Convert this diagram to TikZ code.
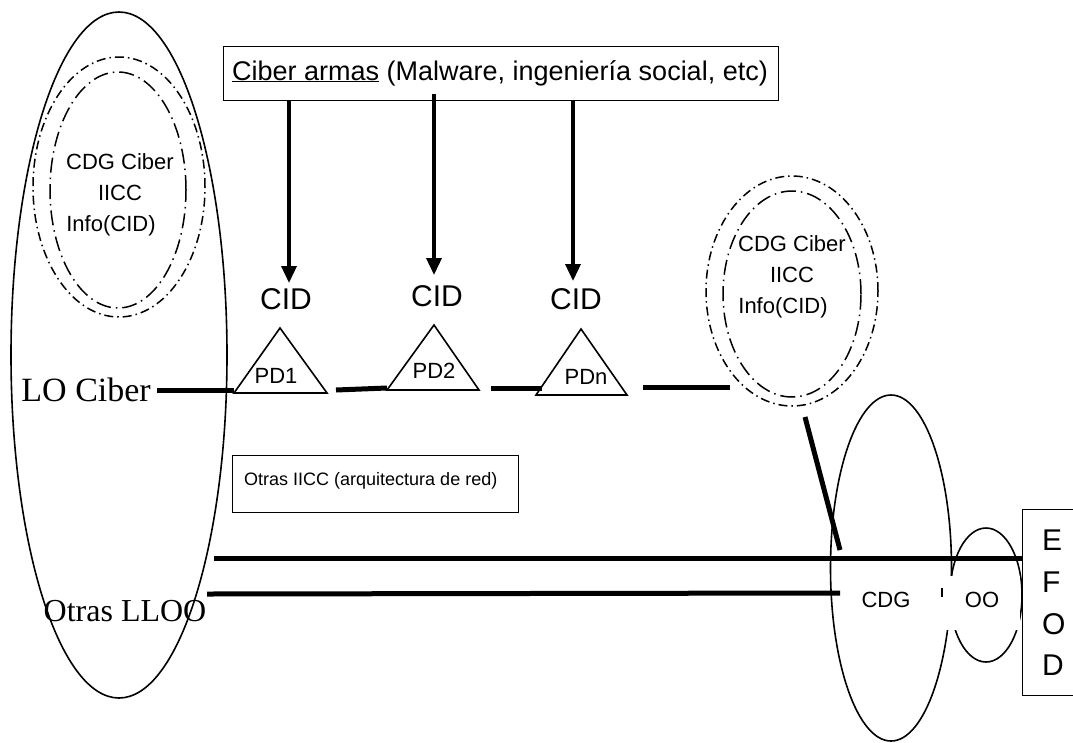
\documentclass[tikz,border=0pt]{standalone}
\usepackage{fontspec}
\setmainfont{Liberation Sans}
\newfontfamily\tmsfont{Liberation Serif}
\usetikzlibrary{shapes.geometric,arrows.meta,calc}
\newcommand\myfs[2]{\fontsize{#1}{#2}\selectfont}
\tikzset{
  ell/.style={draw, ellipse, line width=1.6pt, inner sep=0pt},
  ddouter/.style={draw, ellipse, line width=1.5pt, inner sep=0pt, dash pattern=on 9pt off 4pt on 1.5pt off 4pt},
  ddinner/.style={draw, ellipse, line width=1.5pt, inner sep=0pt, dash pattern=on 15pt off 5pt on 1.5pt off 5pt},
  thicklink/.style={line width=5pt},
  weaponarrow/.style={line width=3.5pt, -{Triangle[width=15pt,length=17pt]}},
  tri/.style={line width=1.6pt, line join=miter},
  frame/.style={draw, line width=1.3pt, rectangle, inner sep=0pt},
  lbl/.style={inner sep=0pt},
}
\begin{document}
\begin{tikzpicture}[x=1pt,y=-1pt]
\useasboundingbox (0,0) rectangle (1073,742);
\clip (0,0) rectangle (1073,742);
\fill[white] (0,0) rectangle (1073,742);

% left big ellipse with dash-dot ellipses
\node[ell, minimum width=216pt, minimum height=686pt] (bigL) at (119,355) {};
\node[ddouter, minimum width=172pt, minimum height=260pt] (dLo) at (119,187) {};
\node[ddinner, minimum width=136pt, minimum height=236pt] (dLi) at (118,190) {};
\node[lbl, align=center, font=\myfs{22}{31}] (tL) at (120,195) {CDG Ciber\\IICC\\Info(CID)\hspace*{18pt}};

% top box
\node[frame, minimum width=555pt, minimum height=54pt, anchor=north west] (arms) at (223,46) {};
\node[lbl, anchor=base, font=\myfs{27}{32}] (armst) at (500,80) {\underline{Ciber armas} (Malware, ingeniería social, etc)};

% arrow tips
\coordinate (t1) at (289,283);
\coordinate (t2) at (434,275);
\coordinate (t3) at (573,281);
\draw[weaponarrow] (arms.south -| t1) -- (t1);
\draw[weaponarrow] ($(arms.south -| t2)+(0,-7)$) -- (t2);
\draw[weaponarrow] (arms.south -| t3) -- (t3);

\node[lbl, anchor=base, font=\myfs{30}{36}] (cid1) at (286,309) {CID};
\node[lbl, anchor=base, font=\myfs{30}{36}] (cid2) at (437,306) {CID};
\node[lbl, anchor=base, font=\myfs{30}{36}] (cid3) at (576,309) {CID};

% triangles
\coordinate (p1a) at (280,328); \coordinate (p1l) at (234,393); \coordinate (p1r) at (327,393);
\coordinate (p2a) at (434,325); \coordinate (p2l) at (387,390); \coordinate (p2r) at (479,390);
\coordinate (p3a) at (581,329); \coordinate (p3l) at (536,395); \coordinate (p3r) at (627,395);
\draw[tri] (p1a) -- (p1l) -- (p1r) -- cycle;
\draw[tri] (p2a) -- (p2l) -- (p2r) -- cycle;
\draw[tri] (p3a) -- (p3l) -- (p3r) -- cycle;
\node[lbl, font=\myfs{22}{26}] (pd1) at (276,376) {PD1};
\node[lbl, font=\myfs{22}{26}] (pd2) at (434,371) {PD2};
\node[lbl, font=\myfs{22}{26}] (pdn) at (586,377) {PDn};

% LO Ciber line
\node[lbl, anchor=east, font=\tmsfont\myfs{34}{40}] (lo) at (151,390) {LO Ciber};
\draw[thicklink] ($(lo.east)+(6,0)$) -- ($(p1l)+(0,-3)$);
\draw[thicklink] ($(p1r)+(9,-3)$) -- ($(p2l)+(0,-2)$);
\coordinate (l3e) at (542,388);
\draw[thicklink] ($(p2r)+(12,-2)$) -- (l3e);
\coordinate (l4e) at (730,387);
\draw[thicklink] ($(p3r)+(16,-8)$) -- (l4e);

% right dash-dot ellipses
\node[ddouter, minimum width=172pt, minimum height=230pt] (dRo) at (792,291) {};
\node[ddinner, minimum width=138pt, minimum height=206pt] (dRi) at (792,294) {};
\node[lbl, align=center, font=\myfs{22}{31}] (tR) at (792,277) {CDG Ciber\\IICC\\Info(CID)\hspace*{18pt}};

% other IICC box
\node[frame, minimum width=286pt, minimum height=57pt, anchor=north west] (iicc) at (232,455) {};
\node[lbl, anchor=base west, font=\myfs{18}{22}] (iicct) at (244,485) {Otras IICC (arquitectura de red)};

% Otras LLOO
\node[lbl, font=\tmsfont\myfs{32}{38}] (otras) at (125,611) {Otras LLOO};

% CDG and OO ellipses
\node[ell, minimum width=121pt, minimum height=346pt] (cdg) at (891,568) {};
\node[ell, minimum width=72pt, minimum height=134pt] (oo) at (986,595) {};
\fill[white] (945,576) rectangle (1020,630);
\draw[line width=2pt] (942,588) -- (942,597);
\node[lbl, font=\myfs{22}{26}] (cdgt) at (886,600) {CDG};
\node[lbl, font=\myfs{22}{26}] (oot) at (982,600) {OO};

% EFOD box
\node[frame, minimum width=70pt, minimum height=186pt, anchor=north west] (efod) at (1022,509) {};
\node[lbl, anchor=west, align=left, font=\myfs{30}{41.7}] (efodt) at (1042,603) {E\\F\\O\\D};

% lower lines
\coordinate (l1a) at (214,558);
\draw[thicklink] (l1a) -- (efod.west |- l1a);
\coordinate (l2a) at (207,594);
\coordinate (l2b) at (840,593);
\draw[thicklink] (l2a) -- (l2b);
\coordinate (dga) at (805,417);
\coordinate (dgb) at (840,550);
\draw[thicklink] (dga) -- (dgb);
\end{tikzpicture}
\end{document}
